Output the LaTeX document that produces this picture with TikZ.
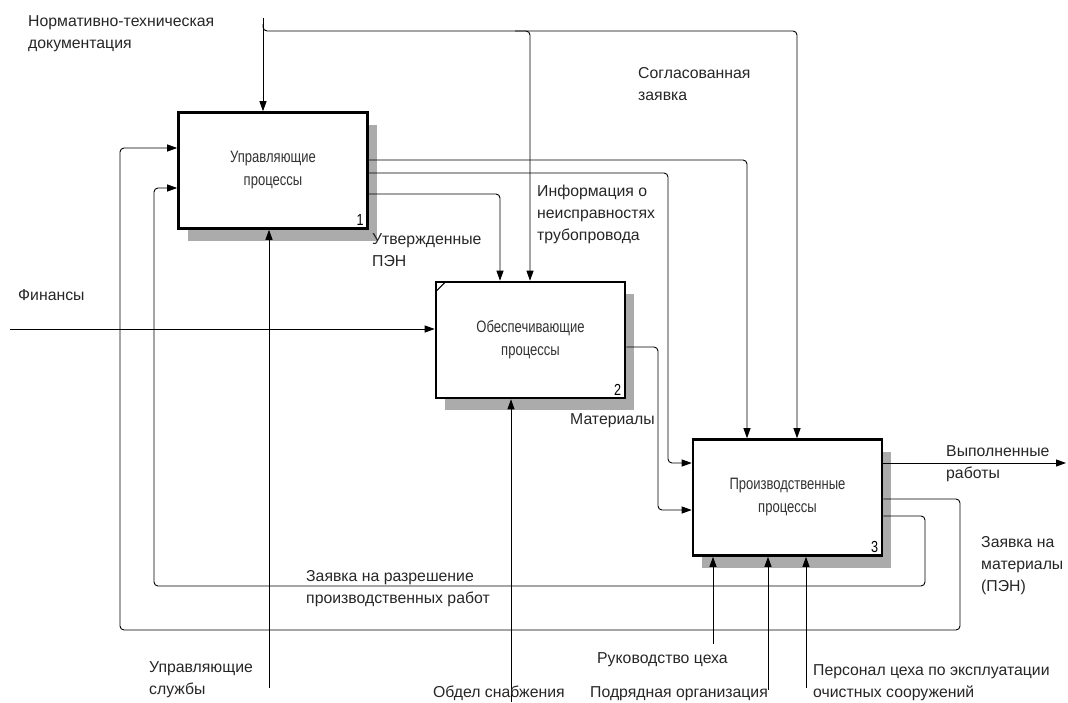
\documentclass[tikz,border=0pt]{standalone}
\usepackage{fontspec}
\setmainfont{Liberation Sans}
\newfontfamily\narrowfont[FakeStretch=0.79]{Liberation Sans}
\usetikzlibrary{arrows.meta,shadows}
\tikzset{
  box/.style={draw, line width=2.6pt, fill=white, minimum width=189pt, minimum height=116pt,
    align=center, inner sep=0pt, text=black!80, font=\narrowfont\fontsize{16.5}{23}\selectfont,
    drop shadow={shadow xshift=9pt, shadow yshift=-12pt, fill=black!33, opacity=1}},
  flow/.style={line width=0.9pt, rounded corners=4pt},
  arr/.style={flow, -{Triangle[length=10pt,width=7pt]}},
  lbl/.style={anchor=base west, align=left, inner sep=0pt, font=\fontsize{15.8}{22}\selectfont, text=black!85},
  num/.style={anchor=south east, inner sep=0pt, font=\narrowfont\fontsize{16}{16}\selectfont}
}
\begin{document}
\begin{tikzpicture}[x=1pt,y=-1pt]
\useasboundingbox (0,0) rectangle (1068,702);
% boxes
\node[box] (b1) at (273,170.5) {Управляющие\\процессы};
\node[box] (b2) at (530.5,340) {Обеспечивающие\\процессы};
\node[box] (b3) at (787.5,497.5) {Производственные\\процессы};
\node[num] (n1) at ([shift={(-5,-4)}]b1.south east) {1};
\node[num] (n2) at ([shift={(-5,-4)}]b2.south east) {2};
\node[num] (n3) at ([shift={(-5,-4)}]b3.south east) {3};
\draw[line width=1pt] ([shift={(2,10)}]b2.north west) -- ([shift={(10,2)}]b2.north west);
% free ends
\coordinate (ntd) at (263,18);
\coordinate (ntdsplit) at (263,24);
\coordinate (fin) at (10,329);
\coordinate (out) at (1066,463);
\coordinate (m1) at (269,688);
\coordinate (m2) at (511,702);
\coordinate (m3) at (713,644);
\coordinate (m4) at (768,690);
\coordinate (m5) at (806,688);
% controls from top
\draw[arr] (ntd) -- (ntd |- b1.north);
\draw[arr] (ntdsplit) -- (263,31) -- (797,31) -- (797,0 |- b3.north);
\draw[arr] (515,31) -- (530,31) -- (530,0 |- b2.north);
% outputs of box 1
\draw[arr] (b1.east |- 0,160) -- (747,160) -- (747,0 |- b3.north);
\draw[arr] (b1.east |- 0,173) -- (668,173) -- (668,463) -- (b3.west |- 0,463);
\draw[arr] (b1.east |- 0,194) -- (500,194) -- (500,0 |- b2.north);
% input to box 2
\draw[arr] (fin) -- (b2.west |- fin);
% output of box 2
\draw[arr] (b2.east |- 0,347) -- (658,347) -- (658,510) -- (b3.west |- 0,510);
% output of box 3
\draw[arr] (b3.east |- out) -- (out);
% feedback loops
\draw[arr] (b3.east |- 0,499) -- (960,499) -- (960,630) -- (120,630) -- (120,148) -- (b1.west |- 0,148);
\draw[arr] (b3.east |- 0,516) -- (925,516) -- (925,586) -- (154,586) -- (154,188) -- (b1.west |- 0,188);
% mechanisms
\draw[arr] (m1) -- (m1 |- b1.south);
\draw[arr] (m2) -- (m2 |- b2.south);
\draw[arr] (m3) -- (m3 |- b3.south);
\draw[arr] (m4) -- (m4 |- b3.south);
\draw[arr] (m5) -- (m5 |- b3.south);
% labels (anchor = baseline of last line)
\node[lbl] (t1) at (28,48) {Нормативно-техническая\\документация};
\node[lbl] (t2) at (638,100) {Согласованная\\заявка};
\node[lbl] (t3) at (537,240) {Информация о\\неисправностях\\трубопровода};
\node[lbl] (t4) at (372,266) {Утвержденные\\ПЭН};
\node[lbl] (t5) at (18,300) {Финансы};
\node[lbl] (t6) at (570,424) {Материалы};
\node[lbl] (t7) at (946,478) {Выполненные\\работы};
\node[lbl] (t8) at (981,591) {Заявка на\\материалы\\(ПЭН)};
\node[lbl] (t9) at (306,603) {Заявка на разрешение\\производственных работ};
\node[lbl] (t10) at (149,694) {Управляющие\\службы};
\node[lbl] (t11) at (433,697) {Обдел снабжения};
\node[lbl] (t12) at (597,663) {Руководство цеха};
\node[lbl] (t13) at (590,697) {Подрядная организация};
\node[lbl] (t14) at (813,697) {Персонал цеха по эксплуатации\\очистных сооружений};
\end{tikzpicture}
\end{document}
